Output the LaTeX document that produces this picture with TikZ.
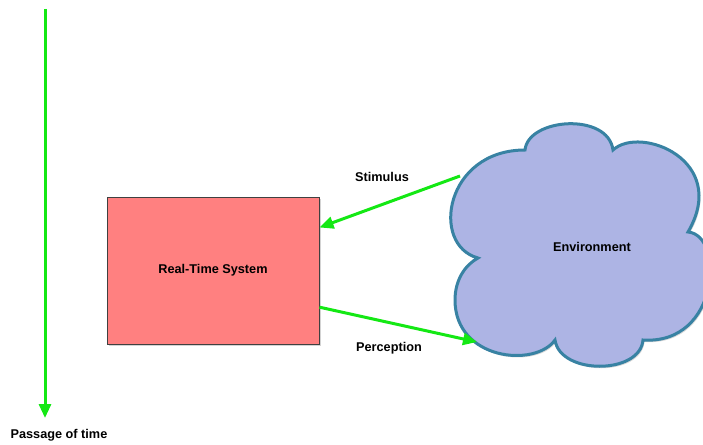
\documentclass[tikz,border=0pt]{standalone}
\usepackage{fontspec}
\setmainfont{Liberation Sans}
\usetikzlibrary{arrows.meta, shadows}
\definecolor{signal}{RGB}{20,232,20}
\definecolor{rtsred}{RGB}{255,128,128}
\definecolor{envblue}{RGB}{173,180,228}
\definecolor{envedge}{RGB}{56,130,163}
\tikzstyle{txt} = [font=\fontsize{12.7}{15}\selectfont\bfseries]
\tikzstyle{system} = [rectangle, minimum width=212pt, minimum height=147pt, text centered, draw=black!75, line width=1pt, fill=rtsred, drop shadow={shadow xshift=1.5pt, shadow yshift=-1.5pt, opacity=0.35}]
\tikzstyle{cloudy} = [fill=envblue, draw=envedge, line width=3pt, drop shadow={shadow xshift=1.5pt, shadow yshift=-2pt, opacity=0.3}]
\tikzstyle{arrow} = [line width=3pt, draw=signal, -{Triangle[length=14pt,width=12pt,fill=signal]}]

\begin{document}
\begin{tikzpicture}[x=1pt, y=-1pt]
			\clip (0,0) rectangle (703,444);
			% environment cloud
			\path [cloudy] (478,258) .. controls (430,245) and (445,150) .. (525,150)
				.. controls (528,118) and (608,112) .. (613,150)
				.. controls (640,125) and (730,160) .. (688,232)
				.. controls (725,235) and (720,345) .. (643,340)
				.. controls (640,375) and (560,375) .. (555,340)
				.. controls (535,368) and (455,360) .. (455,300)
				.. controls (455,280) and (465,265) .. (478,258) -- cycle;
			\node (env) [txt] at (592,247) {Environment};
			
			\node (rts) [system, txt] at (213,270.5) {Real-Time System};
			\coordinate (stim) at (460,176);
			\coordinate (perc) at (477,342);
			\node (stimtxt) [txt] at (382,177) {Stimulus};
			\node (perctxt) [txt] at (389,348) {Perception};
			
			\coordinate (start) at (45,9);
			\coordinate (now) at (45,418);
			\node (time) [txt] at (59,435) {Passage of time};
			
			\draw [arrow] (stim) -- (rts.22);
			\draw [arrow] (rts.-19) -- (perc);
			\draw [arrow] (start) -- (now);
		\end{tikzpicture}
\end{document}
